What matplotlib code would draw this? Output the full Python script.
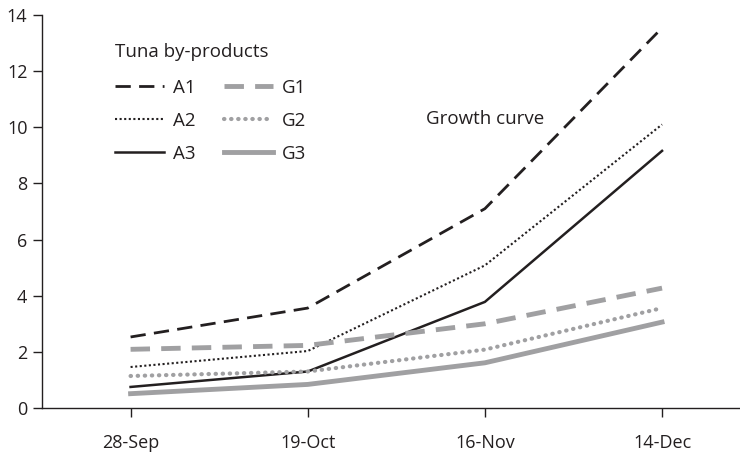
import matplotlib
matplotlib.use("Agg")
import matplotlib.pyplot as plt

plt.rcParams['font.family'] = ['Open Sans', 'DejaVu Sans']

dates = ["28-Sep", "19-Oct", "16-Nov", "14-Dec"]
A1 = [2.53, 3.56, 7.10, 13.54]
A2 = [1.46, 2.03, 5.08, 10.10]
A3 = [0.75, 1.30, 3.78, 9.16]
G1 = [2.09, 2.23, 3.00, 4.27]
G2 = [1.14, 1.30, 2.08, 3.56]
G3 = [0.51, 0.84, 1.61, 3.06]
yticks = [0, 2, 4, 6, 8, 10, 12, 14]

dark = "#231f20"
gray = "#a0a0a2"

fig = plt.figure(figsize=(7.4, 4.54), dpi=100)
ax = fig.add_axes([42/740, 1 - 408/454, 1 - 42/740, (408 - 15)/454])
x = list(range(len(dates)))

ax.plot(x, A1, color=dark, lw=2.0, dashes=(5.5, 3), label="A1")
ax.plot(x, A2, color=dark, lw=1.5, linestyle=(0, (1, 1.2)), label="A2")
ax.plot(x, A3, color=dark, lw=1.8, label="A3")
ax.plot(x, G1, color=gray, lw=3.5, dashes=(4, 2.3), label="G1")
ax.plot(x, G2, color=gray, lw=3.0, linestyle=(0, (0.1, 1.6)), dash_capstyle='round', label="G2")
ax.plot(x, G3, color=gray, lw=3.5, label="G3")

ax.set_xlim(-0.5, 3.44)
ax.set_ylim(0, 14)
ax.set_xticks(x)
ax.set_xticklabels(dates)
ax.set_yticks(yticks)
ax.tick_params(axis='both', labelsize=13, colors=dark, length=6.5, width=1.0, direction='out')
ax.tick_params(axis='x', pad=12)
ax.tick_params(axis='y', pad=4)
for s in ['top', 'right']:
    ax.spines[s].set_visible(False)
for s in ['left', 'bottom']:
    ax.spines[s].set_color(dark)
    ax.spines[s].set_linewidth(1.0)

ax.text((115 - 42) / 698, (408 - 52) / 393, "Tuna by-products", transform=ax.transAxes,
        fontsize=13.5, color=dark, va='center', ha='left')
leg = ax.legend(ncol=2, frameon=False, fontsize=13.5,
                loc='upper left', bbox_to_anchor=((115 - 42) / 698, (408 - 79) / 393),
                borderaxespad=0, borderpad=0,
                handlelength=2.6, handletextpad=0.5,
                columnspacing=1.5, labelspacing=0.8)
for t in leg.get_texts():
    t.set_color(dark)

ax.text(1.667, 10.3, "Growth curve", fontsize=13.5, color=dark, va='center', ha='left')

fig.savefig("out.png", dpi=100)
